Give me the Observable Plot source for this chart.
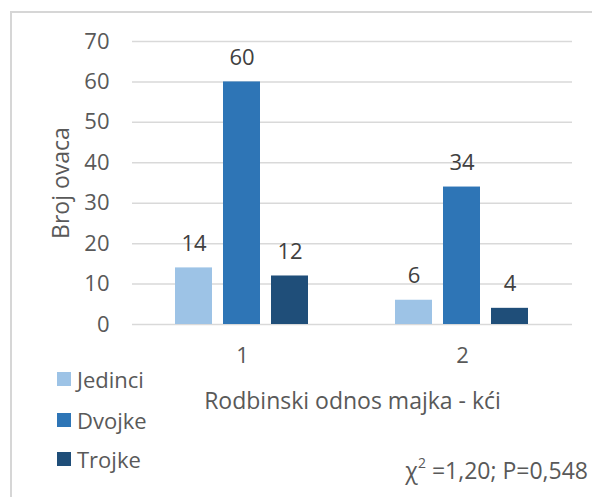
<!DOCTYPE html>
<html>
<head>
<meta charset="utf-8">
<script src="https://cdn.jsdelivr.net/npm/d3@7"></script>
<script src="https://cdn.jsdelivr.net/npm/@observablehq/plot@0.6"></script>
<style>
  html, body { margin: 0; padding: 0; background: #fff; }
  #wrap { position: relative; width: 592px; height: 497px; font-family: "Open Sans", sans-serif; color: #595959; overflow: hidden; }
  #chart { position: absolute; left: 0; top: 0; }
  #bl { position: absolute; left: 10px; top: 11px; width: 2px; height: 486px; background: #D6D6D6; z-index: 5; }
  #bt { position: absolute; left: 10px; top: 11px; width: 582px; height: 2px; background: #D6D6D6; z-index: 5; }
  .leg { position: absolute; left: 57px; display: flex; align-items: center; font-size: 22px; line-height: 1; z-index: 6; }
  .leg span.sw { display: inline-block; width: 14px; height: 14px; margin-right: 6px; }
  #note { position: absolute; right: 4px; top: 458px; font-size: 23px; line-height: 1; white-space: nowrap; z-index: 6; }
  #note sup { font-size: 14px; position: relative; top: -2px; }
</style>
</head>
<body>
<div id="wrap">
  <div id="chart"></div>
  <div id="bl"></div>
  <div id="bt"></div>
  <div id="legend"></div>
  <div id="note">χ<sup>2</sup> =1,20; P=0,548</div>
</div>
<script>
const groups = ["1", "2"];
const series = ["Jedinci", "Dvojke", "Trojke"];
const jedinci = [14, 6];
const dvojke = [60, 34];
const trojke = [12, 4];
const colors = ["#9DC3E6", "#2E75B6", "#1F4E79"];
const yTicks = [0, 10, 20, 30, 40, 50, 60, 70];
const xTitle = "Rodbinski odnos majka - kći";
const yTitle = "Broj ovaca";

const valuesBySeries = [jedinci, dvojke, trojke];
const data = [];
groups.forEach((g, gi) => series.forEach((s, si) => data.push({group: g, series: s, value: valuesBySeries[si][gi]})));

const chart = Plot.plot({
  width: 592,
  height: 497,
  marginTop: 41,
  marginBottom: 173,
  marginLeft: 131,
  marginRight: 20,
  style: {fontFamily: "Open Sans", fontSize: "21px", color: "#595959", background: "transparent"},
  fx: {domain: groups, padding: 0},
  x: {domain: series, paddingInner: 0.22, paddingOuter: 0.86, axis: null},
  y: {domain: [0, 70]},
  color: {domain: series, range: colors},
  marks: [
    Plot.gridY(yTicks, {stroke: "#D9D9D9", strokeOpacity: 1, strokeWidth: 1.5}),
    Plot.axisY({ticks: yTicks, tickSize: 0, tickPadding: 23, fontSize: 22, fill: "#595959", label: null}),
    Plot.axisY({ticks: [], tickSize: 0, fontSize: 23, fill: "#595959",
                label: yTitle, labelAnchor: "center", labelArrow: "none", labelOffset: 80}),
    Plot.axisFx({anchor: "bottom", tickSize: 0, tickPadding: 23, fontSize: 22, fill: "#595959", label: null}),
    Plot.axisFx({anchor: "bottom", ticks: [], tickSize: 0, fontSize: 23, fill: "#595959",
                 label: xTitle, labelAnchor: "center", labelArrow: "none", labelOffset: 84}),
    Plot.barY(data, {fx: "group", x: "series", y: "value", fill: "series"}),
    Plot.text(data, {fx: "group", x: "series", y: "value", text: d => String(d.value), dy: -24, fontSize: 22, fill: "#404040"})
  ]
});
document.getElementById("chart").appendChild(chart);

const legend = document.getElementById("legend");
const legTops = [379, 420, 459];
series.forEach((s, i) => {
  const el = document.createElement("div");
  el.className = "leg";
  el.style.top = (legTops[i] - 11) + "px";
  el.innerHTML = `<span class="sw" style="background:${colors[i]}"></span><span>${s}</span>`;
  legend.appendChild(el);
});
</script>
</body>
</html>
